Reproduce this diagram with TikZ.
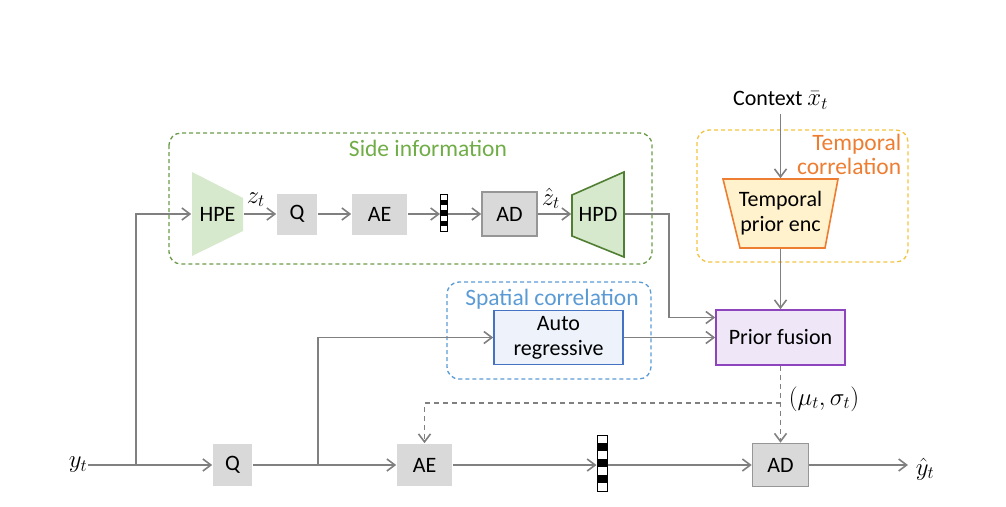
\documentclass[tikz,border=0pt]{standalone}
\usepackage{fontspec}
\setmainfont{Carlito}
\usepackage{amsmath}
\usetikzlibrary{arrows.meta,calc}
\definecolor{LineGray}{HTML}{808080}
\definecolor{BoxGray}{HTML}{D9D9D9}
\definecolor{AdGray}{HTML}{969696}
\definecolor{HpFill}{HTML}{D6E9CC}
\definecolor{HpdLine}{HTML}{507E32}
\definecolor{SideGreen}{HTML}{6B9B4A}
\definecolor{SideTitle}{HTML}{70AD47}
\definecolor{TempYellow}{HTML}{F2C340}
\definecolor{TempOrange}{HTML}{ED7D31}
\definecolor{TempFill}{HTML}{FFF2CC}
\definecolor{SpBlue}{HTML}{5B9BD5}
\definecolor{ArFill}{HTML}{EDF2FB}
\definecolor{ArLine}{HTML}{4472C4}
\definecolor{FusFill}{HTML}{EFE7F7}
\definecolor{FusLine}{HTML}{8E44BD}

\begin{document}
\begin{tikzpicture}[x=1pt, y=-1pt, line width=1.6pt,
      every node/.append style={inner sep=0pt, align=center, font=\fontsize{22}{25}\selectfont},
      arr/.style={draw=LineGray, -{Straight Barb[length=8pt,width=12pt]}},
      dasharr/.style={arr, dash pattern=on 5pt off 4pt},
      group/.style={dash pattern=on 4pt off 3pt, line width=1.3pt, rounded corners=12pt}]
    \tikzstyle{gray box} = [fill=BoxGray, minimum height=41pt]
    \tikzstyle{ad box} = [gray box, draw=AdGray, minimum width=55pt, minimum height=43pt]
    \tikzstyle{group title} = [font=\fontsize{23.5}{24}\selectfont]
    \tikzstyle{mathlabel} = [font=\fontsize{27}{27}\selectfont]
    \tikzstyle{bits} = [draw=black, fill=white, line width=1pt,
      path picture={\foreach \k in {1,3,5} \fill[black]
        ($(path picture bounding box.north west)!\k/7!(path picture bounding box.south west)$) rectangle
        ($(path picture bounding box.north east)!{(\k+1)/7}!(path picture bounding box.south east)$);}]
    \useasboundingbox (0,0) rectangle (1006,506);

    \draw[group, draw=SideGreen] (169,133) rectangle (652,264);
    \draw[group, draw=TempYellow] (697,130) rectangle (908,262);
    \draw[group, draw=SpBlue] (447,282) rectangle (651,379);
    \node[group title, text=SideTitle, anchor=base] (side_title) at (428,156) {Side information};
    \node[group title, text=SpBlue, anchor=base] (spatial_title) at (552,305) {Spatial correlation};
    \node[group title, text=TempOrange, anchor=north east, align=right] (temporal_title) at (902,133) {Temporal\\correlation};

    \fill[HpFill] (192,172) -- (243,198) -- (243,231) -- (192,256) -- cycle;
    \draw[HpdLine, fill=HpFill] (572,195) -- (624,172) -- (624,257) -- (572,236) -- cycle;
    \draw[TempOrange, fill=TempFill] (723,179) -- (838,179) -- (825,248) -- (740,248) -- cycle;

    \node (HPE) [minimum width=51pt, minimum height=34pt] at (217.5,214) {HPE};
    \node (q_side) [gray box, minimum width=40pt] at (297,214) {Q};
    \node (ae_side) [gray box, minimum width=55pt] at (379.5,214) {AE};
    \node (bits_side) [bits, minimum width=7pt, minimum height=37pt] at (444,213) {};
    \node (ad_side) [ad box, minimum height=44pt] at (509.5,214) {AD};
    \node (HPD) [minimum width=52pt, minimum height=34pt] at (598,214) {HPD};
    \node[mathlabel, anchor=base west] (z_label) at (246,203) {$z_t$};
    \node[mathlabel, anchor=base west] (zhat_label) at (541,205) {$\hat{z}_t$};

    \node (context) [inner ysep=4pt] at (780.5,100) {Context \fontsize{27}{27}\selectfont$\bar{x}_t$};
    \node (TPE) [minimum width=115pt, minimum height=69pt] at (780.5,213.5) {Temporal\\prior enc};
    \node (fusion) [draw=FusLine, fill=FusFill, minimum width=129pt, minimum height=55pt] at (780.5,337.5) {Prior fusion};
    \node (auto) [draw=ArLine, fill=ArFill, minimum width=129pt, minimum height=54pt] at (558.5,337.5) {Auto\\regressive};

    \node[mathlabel] (y_in) at (78,465) {$y_t$};
    \node (q_main) [gray box, minimum width=39pt, minimum height=42pt] at (232.5,465) {Q};
    \node (ae_main) [gray box, minimum width=55pt, minimum height=42pt] at (424.5,465) {AE};
    \node (bits_main) [bits, minimum width=10pt, minimum height=56pt] at (602,463) {};
    \node (ad_main) [ad box, minimum width=56pt] at (780.5,465) {AD};
    \node[mathlabel] (y_out) at (925,469) {$\hat{y}_t$};
    \node[mathlabel] (params) at (824,399) {$(\mu_t,\sigma_t)$};

    \coordinate (split_y) at (136,465);
    \coordinate (split_q) at (318,465);
    \coordinate (hpd_turn) at (669,214);
    \coordinate (prior_split) at (780.5,403);

    \draw[arr] (y_in.east) -- (q_main.west);
    \draw[arr] (split_y) |- (HPE.west);
    \draw[arr] (HPE) -- (q_side);
    \draw[arr] (q_side) -- (ae_side);
    \draw[arr] (ae_side) -- (bits_side.west |- ae_side.east);
    \draw[arr] (bits_side.east |- ae_side.east) -- (ad_side);
    \draw[arr] (ad_side) -- (HPD);
    \draw[arr] (HPD.east) -- (hpd_turn) |- ([yshift=20pt]fusion.west);
    \draw[arr] (context) -- (TPE);
    \draw[arr] (TPE) -- (fusion);
    \draw[arr] (auto) -- (fusion);
    \draw[arr] (q_main) -- (ae_main);
    \draw[arr] (split_q) |- (auto.west);
    \draw[arr] (ae_main.east) -- (bits_main.west |- ae_main.east);
    \draw[arr] (bits_main.east |- ae_main.east) -- (ad_main.west);
    \draw[arr] (ad_main.east) -- ([xshift=-7pt]ad_main.east -| y_out.west);
    \draw[dasharr] (fusion) -- (ad_main);
    \draw[dasharr] (prior_split) -| (ae_main.north);
  \end{tikzpicture}
\end{document}
